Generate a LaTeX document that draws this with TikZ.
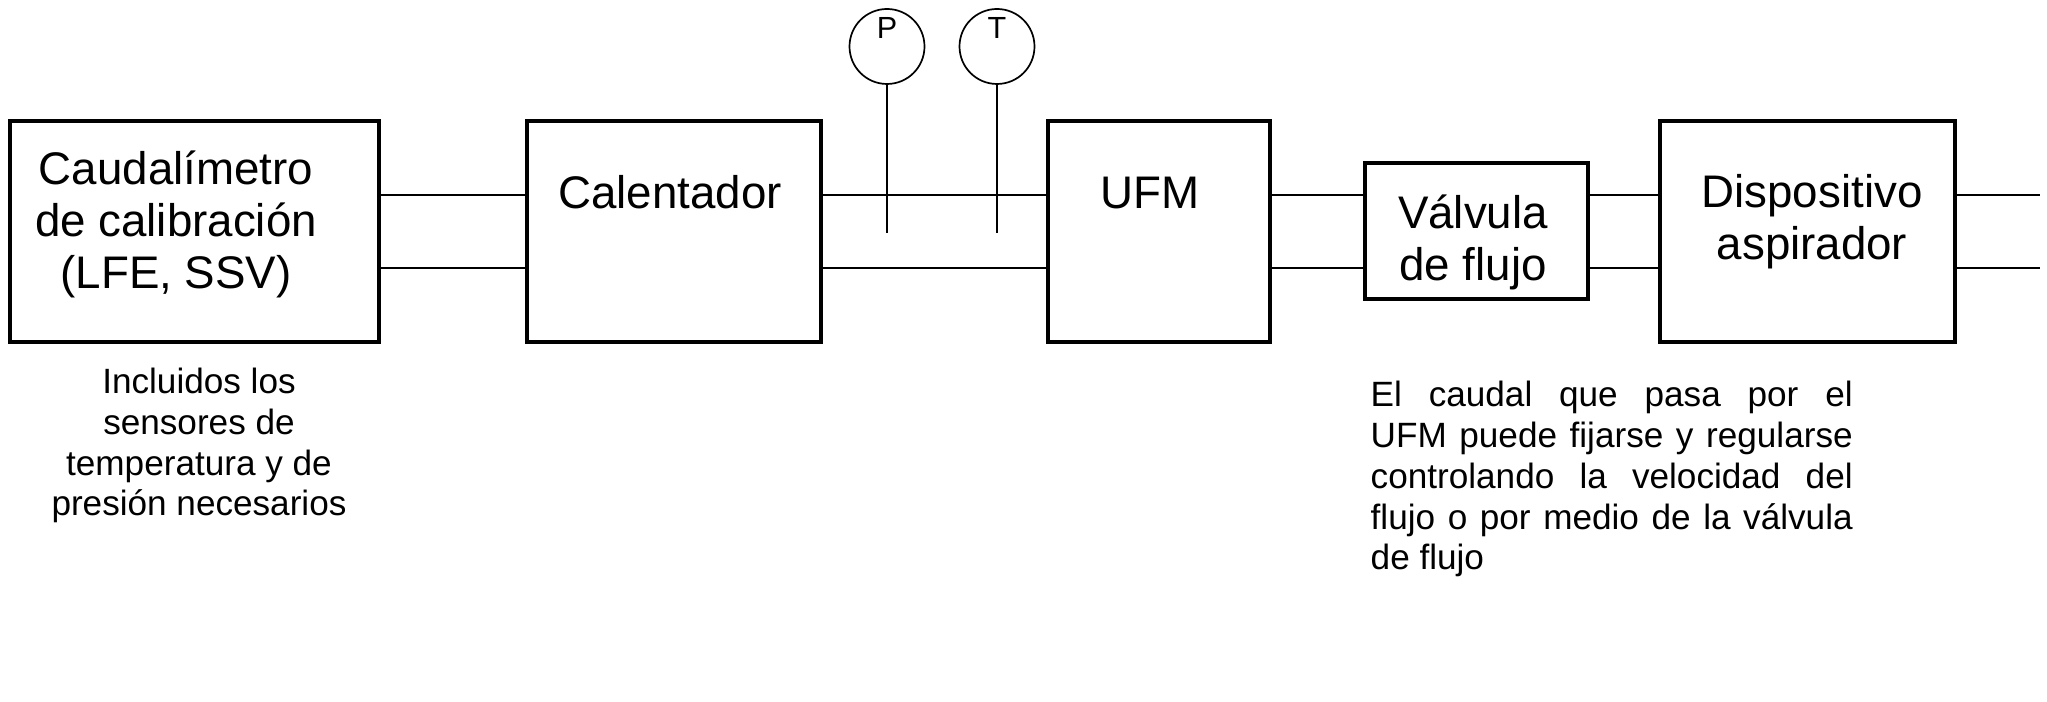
\documentclass[tikz,border=0pt]{standalone}
\usepackage{fontspec}
\setmainfont{Liberation Sans}
\usepackage{tikz}

\tikzset{
  unit/.style={draw,line width=0.32mm,inner sep=0,outer sep=0},
  pipe/.style={line width=0.24mm},
  sensor/.style={draw,circle,line width=0.17mm,minimum size=7.5mm,inner sep=0},
  boxtext/.style={font=\fontsize{13pt}{14.8pt}\selectfont,align=center,anchor=base,inner sep=0},
  notetext/.style={font=\fontsize{10pt}{11.6pt}\selectfont,inner sep=0,anchor=base},
}

\begin{document}
\begin{tikzpicture}[x=0.1mm,y=-0.1mm]
\useasboundingbox (0,0) rectangle (2047,702);
{
\node[unit,minimum width=36.9mm,minimum height=22.1mm] (cal) at (194.5,231.5) {};
\node[unit,minimum width=29.4mm,minimum height=22.1mm] (heat) at (674,231.5) {};
\node[unit,minimum width=22.2mm,minimum height=22.1mm] (ufm) at (1159,231.5) {};
\node[unit,minimum width=22.3mm,minimum height=13.6mm] (valve) at (1476.5,231) {};
\node[unit,minimum width=29.5mm,minimum height=22.1mm] (asp) at (1807.5,231.5) {};
%
\node[boxtext] (caltxt) at (176,289) {Caudalímetro\\de calibración\\(LFE, SSV)};
\node[boxtext] (heattxt) at (670,209) {Calentador};
\node[boxtext] (ufmtxt) at (1150,209) {UFM};
\node[boxtext] (valvetxt) at (1473,281) {Válvula\\de flujo};
\node[boxtext] (asptxt) at (1812,260) {Dispositivo\\aspirador};
%
\coordinate (top) at (0,195);
\coordinate (bot) at (0,268);
\foreach \a/\b in {cal/heat,heat/ufm,ufm/valve,valve/asp}{
\foreach \y in {top,bot}{
\draw[pipe] (\a.east |- \y) -- (\b.west |- \y);
}
}
\coordinate (outtop) at (2040,195);
\coordinate (outbot) at (2040,268);
\draw[pipe] (asp.east |- top) -- (outtop);
\draw[pipe] (asp.east |- bot) -- (outbot);
%
\foreach \n/\x/\t in {ps/887/P,ts/997/T}{
\node[sensor] (\n) at (\x,46.5) {};
\node[font=\fontsize{8.7pt}{9pt}\selectfont,anchor=base,inner sep=0] (\n-t) at (\x,39) {\t};
\coordinate (\n-e) at (\x,233);
\draw[line width=0.17mm] (\n) -- (\n-e);
}
%
\node[notetext,align=center] (calnote) at (199,516) {Incluidos los\\sensores de\\temperatura y de\\presión necesarios};
\node[notetext,align=left,anchor=base west] (flownote) at (1370,570) {\makebox[48.2mm][s]{El caudal que pasa por el}\\\makebox[48.2mm][s]{UFM puede fijarse y regularse}\\\makebox[48.2mm][s]{controlando la velocidad del}\\\makebox[48.2mm][s]{flujo o por medio de la válvula}\\de flujo};
}
\end{tikzpicture}
\end{document}
